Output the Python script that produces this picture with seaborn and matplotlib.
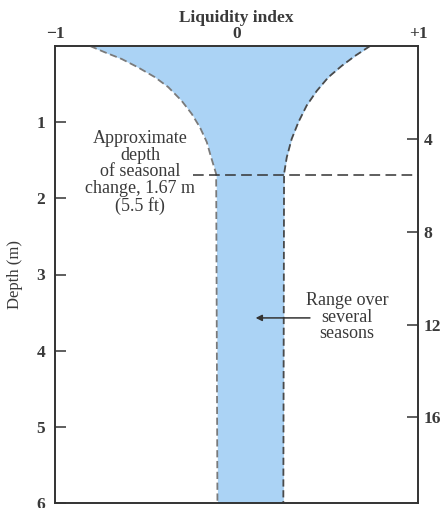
import numpy as np
import pandas as pd
import matplotlib
matplotlib.use("Agg")
import matplotlib.pyplot as plt
import seaborn as sns

# Data
depth_m = [0.0, 0.083, 0.17, 0.28, 0.41, 0.54, 0.72, 0.89, 1.07, 1.26, 1.46, 1.68, 6.0]
li_left = [-0.807, -0.725, -0.633, -0.543, -0.449, -0.376, -0.302, -0.247, -0.201,
           -0.164, -0.140, -0.112, -0.105]
depth_r = [0.0, 0.13, 0.26, 0.41, 0.59, 0.78, 1.00, 1.22, 1.46, 1.68, 6.0]
li_right = [0.736, 0.653, 0.58, 0.506, 0.442, 0.387, 0.341, 0.304, 0.277, 0.262, 0.258]
seasonal_depth = 1.70
x_ticks = [-1, 0, 1]
x_ticklabels = ["\u22121", "0", "+1"]
y_ticks = [1, 2, 3, 4, 5, 6]
ft_ticks = [4, 8, 12, 16]

sns.set_style("white")
plt.rcParams["font.family"] = ["Liberation Serif", "DejaVu Serif"]
TXT = "#3a3a3a"
FS = 12.5

fig = plt.figure(figsize=(4.42, 5.08), dpi=100)
ax = fig.add_axes([55/442, 1-503/508, 363/442, 457/508])

# fill between curves (right curve mapped onto the common depth grid)
dgrid = np.array(sorted(set(depth_m) | set(depth_r)))
lx = np.interp(dgrid, depth_m, li_left)
rx = np.interp(dgrid, depth_r, li_right)
ax.fill_betweenx(dgrid, lx, rx, color="#abd3f5", lw=0, zorder=1)

dfl = pd.DataFrame({"li": li_left, "depth": depth_m})
dfr = pd.DataFrame({"li": li_right, "depth": depth_r})
sns.lineplot(data=dfl, x="li", y="depth", sort=False, estimator=None, ax=ax,
             color="#7a7a7a", lw=1.3, linestyle=(0, (4, 2)), zorder=3)
sns.lineplot(data=dfr, x="li", y="depth", sort=False, estimator=None, ax=ax,
             color="#4a4a4a", lw=1.3, linestyle=(0, (4, 2)), zorder=3)

ax.plot([-0.24, 1.0], [seasonal_depth, seasonal_depth], color="#333333", lw=1.1,
        linestyle=(0, (7, 3.5)), zorder=4)

ax.set_xlim(-1, 1)
ax.set_ylim(6, 0)
ax.xaxis.tick_top()
ax.xaxis.set_label_position("top")
ax.set_xticks(x_ticks)
ax.set_xticklabels(x_ticklabels, fontsize=FS, fontweight="bold", color=TXT)
ax.tick_params(axis="x", length=0, pad=3)
ax.set_xlabel("Liquidity index", fontsize=FS, fontweight="bold", color=TXT, labelpad=3)
ax.set_yticks(y_ticks)
ax.set_yticklabels([str(v) for v in y_ticks], fontsize=FS, fontweight="bold", color=TXT)
ax.tick_params(axis="y", direction="in", length=8, width=1.1, color="#333333", pad=7)
ax.set_ylabel("Depth (m)", fontsize=12, color=TXT, labelpad=10)

ax2 = ax.twinx()
ax2.set_ylim(6/0.3048, 0)
ax2.set_yticks(ft_ticks)
ax2.set_yticklabels([str(v) for v in ft_ticks], fontsize=FS, fontweight="bold", color=TXT)
ax2.tick_params(axis="y", direction="in", length=8, width=1.1, color="#333333", pad=4)

for a in (ax, ax2):
    for s in a.spines.values():
        s.set_color("#333333")
        s.set_linewidth(1.2)

ax.text(-0.53, 1.66, "Approximate\ndepth\nof seasonal\nchange, 1.67 m\n(5.5 ft)",
        ha="center", va="center", fontsize=13, color=TXT, linespacing=0.98, zorder=5)
ax.text(0.61, 3.56, "Range over\nseveral\nseasons", ha="center", va="center",
        fontsize=13, color=TXT, linespacing=0.95, zorder=5)
ax.annotate("", xy=(0.09, 3.57), xytext=(0.42, 3.57),
            arrowprops=dict(arrowstyle="-|>", color="#333333", lw=1.1,
                            mutation_scale=9), zorder=5)

fig.savefig("out.png", dpi=100)
